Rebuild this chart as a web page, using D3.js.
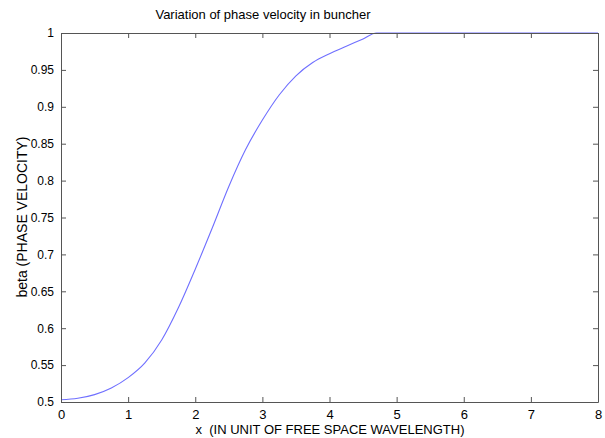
<!DOCTYPE html>
<html>
<head>
<meta charset="utf-8">
<script src="https://cdn.jsdelivr.net/npm/d3@7"></script>
<style>
  html, body { margin: 0; padding: 0; background: #fff; }
  svg { display: block; font-family: "Liberation Sans", Arial, sans-serif; }
</style>
</head>
<body>
<svg id="chart" width="605" height="438"></svg>
<script>
// Data
const xValues = [0, 0.25, 0.5, 0.75, 1.0, 1.25, 1.5, 1.75, 2.0, 2.25, 2.5, 2.75, 3.0, 3.25, 3.5, 3.75, 4.0, 4.25, 4.5, 4.7, 5, 6, 7, 8];
const betaValues = [0.503, 0.505, 0.510, 0.519, 0.533, 0.553, 0.584, 0.628, 0.680, 0.735, 0.792, 0.842, 0.882, 0.916, 0.942, 0.960, 0.972, 0.982, 0.992, 1.0, 1.0, 1.0, 1.0, 1.0];
const xTicks = [0, 1, 2, 3, 4, 5, 6, 7, 8];
const yTicks = [0.5, 0.55, 0.6, 0.65, 0.7, 0.75, 0.8, 0.85, 0.9, 0.95, 1];
const yTickLabels = ["0.5", "0.55", "0.6", "0.65", "0.7", "0.75", "0.8", "0.85", "0.9", "0.95", "1"];
const titleText = "Variation of phase velocity in buncher";
const xLabelText = "x  (IN UNIT OF FREE SPACE WAVELENGTH)";
const yLabelText = "beta (PHASE VELOCITY)";

const svg = d3.select("#chart");
const mLeft = 61, mRight = 598, mTop = 33, mBottom = 402;
const x = d3.scaleLinear().domain([0, 8]).range([mLeft, mRight]);
const y = d3.scaleLinear().domain([0.5, 1]).range([mBottom, mTop]);
const axisColor = "#555";
const tickLen = 5;

// Curve
const data = xValues.map((v, i) => [v, betaValues[i]]);
svg.append("path")
  .datum(data)
  .attr("fill", "none")
  .attr("stroke", "#6f6fff")
  .attr("stroke-width", 1.1)
  .attr("d", d3.line().x(d => x(d[0])).y(d => y(d[1])).curve(d3.curveMonotoneX));

// Axes
function styleAxis(g) {
  g.select(".domain").attr("stroke", axisColor);
  g.selectAll(".tick line").attr("stroke", axisColor);
  g.selectAll(".tick text").attr("fill", "#000");
}
svg.append("g").attr("transform", `translate(0,${mBottom})`)
  .call(d3.axisBottom(x).tickValues(xTicks).tickFormat(d3.format("d")).tickSizeInner(-tickLen).tickSizeOuter(0))
  .call(styleAxis)
  .call(g => g.selectAll(".tick text").attr("font-size", 13).attr("dy", null).attr("y", 17));
svg.append("g").attr("transform", `translate(0,${mTop})`)
  .call(d3.axisTop(x).tickValues(xTicks).tickFormat("").tickSizeInner(-tickLen).tickSizeOuter(0))
  .call(styleAxis);
svg.append("g").attr("transform", `translate(${mLeft},0)`)
  .call(d3.axisLeft(y).tickValues(yTicks).tickFormat((d, i) => yTickLabels[i]).tickSizeInner(-tickLen).tickSizeOuter(0))
  .call(styleAxis)
  .call(g => g.selectAll(".tick text").attr("font-size", 12).attr("x", -7));
svg.append("g").attr("transform", `translate(${mRight},0)`)
  .call(d3.axisRight(y).tickValues(yTicks).tickFormat("").tickSizeInner(-tickLen).tickSizeOuter(0))
  .call(styleAxis);

// Titles
svg.append("text").attr("x", 263).attr("y", 19).attr("text-anchor", "middle")
  .attr("font-size", 13).attr("fill", "#000").text(titleText);
svg.append("text").attr("x", 330).attr("y", 434).attr("text-anchor", "middle")
  .attr("font-size", 13).attr("fill", "#000").style("white-space", "pre").text(xLabelText);
svg.append("text").attr("transform", "translate(27,217) rotate(-90)").attr("text-anchor", "middle")
  .attr("font-size", 14).attr("fill", "#000").text(yLabelText);
</script>
</body>
</html>
